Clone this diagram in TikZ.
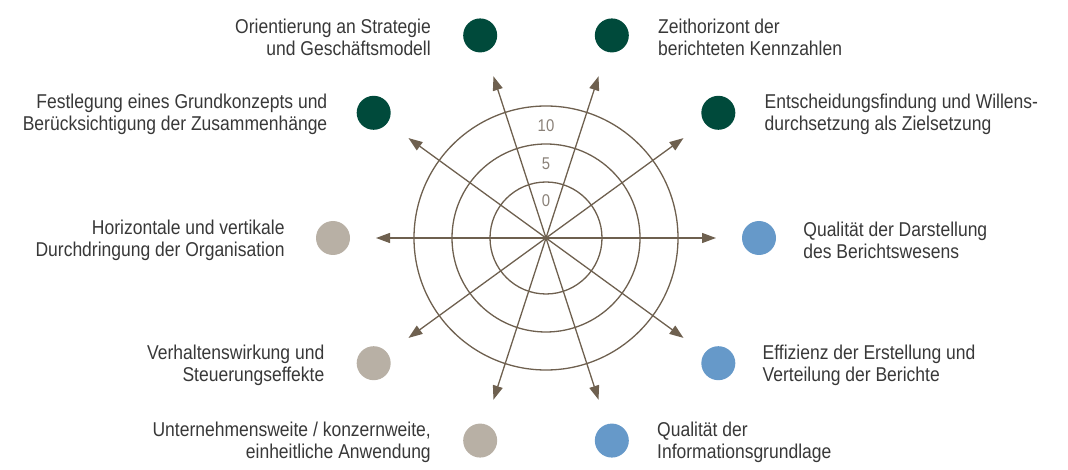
\documentclass[tikz,border=0pt]{standalone}
\usepackage{fontspec}
\setmainfont{Liberation Sans}[FakeStretch=0.875]
\usetikzlibrary{arrows.meta,calc}
\definecolor{axiscol}{HTML}{6E604F}
\definecolor{dkgreen}{HTML}{004A3B}
\definecolor{beige}{HTML}{B8B0A5}
\definecolor{lblue}{HTML}{6699C9}
\definecolor{txtcol}{HTML}{383838}
\definecolor{numcol}{HTML}{8A8178}
\tikzset{
  ring/.style={draw=axiscol, line width=1.3pt},
  axisarrow/.style={draw=axiscol, line width=1.3pt, -{Triangle[length=14pt,width=10pt]}},
  dot/.style={circle, minimum size=34pt, inner sep=0pt, draw=none},
  lab/.style={text=txtcol, inner sep=0pt, font=\fontsize{20}{22}\selectfont},
  labl/.style={lab, anchor=west, align=left},
  labr/.style={lab, anchor=east, align=right},
  num/.style={text=numcol, inner sep=0pt, font=\fontsize{17}{19}\selectfont}
}
\begin{document}
\begin{tikzpicture}[x=1pt,y=1pt]
\useasboundingbox (0,0) rectangle (1068,469);
\coordinate (c) at (546,231);
\foreach \r in {56,94,132} \draw[ring] (c) circle (\r);
\foreach \a in {0,36,...,324} {
  \coordinate (tip\a) at ($(c)+(\a:170)$);
  \draw[axisarrow] (c) -- (tip\a);
}
\node[num] (n10) at ($(c)+(0,112)$) {10};
\node[num] (n5) at ($(c)+(0,74)$) {5};
\node[num] (n0) at ($(c)+(0,37)$) {0};

\node[dot, fill=dkgreen] (d108) at ($(c)+(108:213)$) {};
\node[dot, fill=dkgreen] (d72) at ($(c)+(72:213)$) {};
\node[dot, fill=dkgreen] (d36) at ($(c)+(36:213)$) {};
\node[dot, fill=dkgreen] (d144) at ($(c)+(144:213)$) {};
\node[dot, fill=lblue] (d0) at ($(c)+(0:213)$) {};
\node[dot, fill=lblue] (d324) at ($(c)+(-36:213)$) {};
\node[dot, fill=lblue] (d288) at ($(c)+(-72:213)$) {};
\node[dot, fill=beige] (d252) at ($(c)+(-108:213)$) {};
\node[dot, fill=beige] (d216) at ($(c)+(-144:213)$) {};
\node[dot, fill=beige] (d180) at ($(c)+(180:213)$) {};

\node[labr] (l108) at ($(d108.west)+(-32,-2)$) {Orientierung an Strategie\\und Geschäftsmodell};
\node[labl] (l72) at ($(d72.east)+(29,-2)$) {Zeithorizont der\\berichteten Kennzahlen};
\node[labl] (l36) at ($(d36.east)+(29,-2)$) {Entscheidungsfindung und Willens-\\durchsetzung als Zielsetzung};
\node[labr] (l144) at ($(d144.west)+(-29,-2)$) {Festlegung eines Grundkonzepts und\\Berücksichtigung der Zusammenhänge};
\node[labl] (l0) at ($(d0.east)+(27,-2)$) {Qualität der Darstellung\\des Berichtswesens};
\node[labl] (l324) at ($(d324.east)+(27,-2)$) {Effizienz der Erstellung und\\Verteilung der Berichte};
\node[labl] (l288) at ($(d288.east)+(28,-2)$) {Qualität der\\Informationsgrundlage};
\node[labr] (l252) at ($(d252.west)+(-32,-2)$) {Unternehmensweite / konzernweite,\\einheitliche Anwendung};
\node[labr] (l216) at ($(d216.west)+(-32,-2)$) {Verhaltenswirkung und\\Steuerungseffekte};
\node[labr] (l180) at ($(d180.west)+(-31,-2)$) {Horizontale und vertikale\\Durchdringung der Organisation};
\end{tikzpicture}
\end{document}
